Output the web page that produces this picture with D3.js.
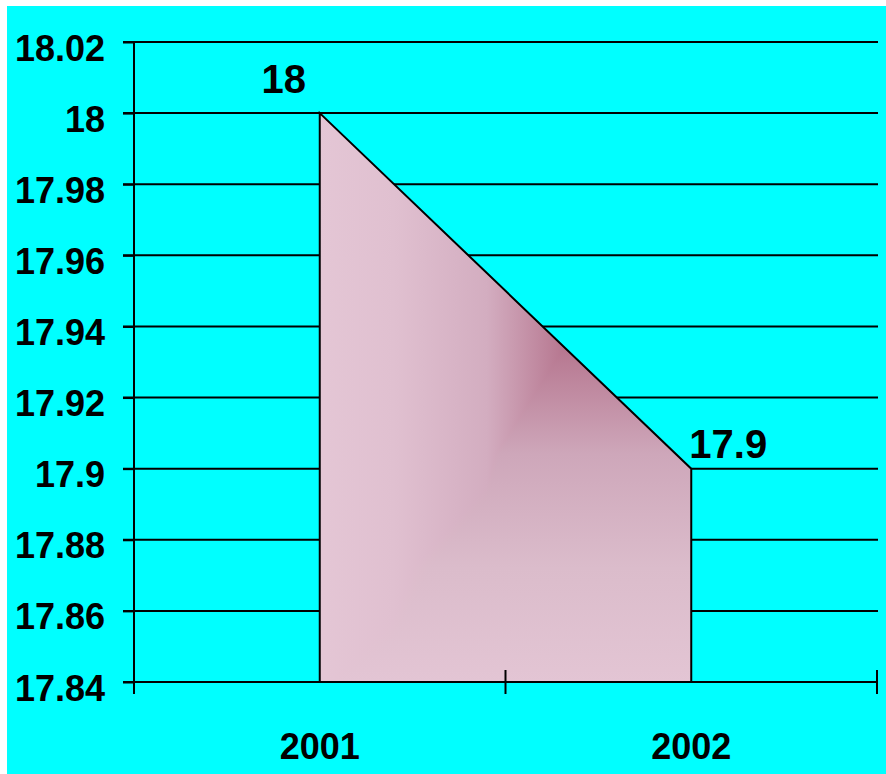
<!DOCTYPE html>
<html><head><meta charset="utf-8">
<script src="https://cdn.jsdelivr.net/npm/d3@7"></script>
<style>html,body{margin:0;padding:0;background:#fff;}svg{display:block;}</style>
</head><body>
<script>
const categories = ["2001", "2002"];
const values = [18, 17.9];
const valueLabels = ["18", "17.9"];
const yTicks = [17.84, 17.86, 17.88, 17.9, 17.92, 17.94, 17.96, 17.98, 18, 18.02];
const yTickLabels = ["17.84","17.86","17.88","17.9","17.92","17.94","17.96","17.98","18","18.02"];

(function () {
const W = 886, H = 774;
const svg = d3.select("body").append("svg").attr("width", W).attr("height", H);
svg.append("rect").attr("x", 7).attr("y", 6).attr("width", W - 7).attr("height", H - 6).attr("fill", "#00ffff");

const pL = 134, pR = 877, pT = 42, pB = 682;
const x = d3.scaleBand().domain(categories).range([pL, pR]).padding(0);
const y = d3.scaleLinear().domain([17.84, 18.02]).range([pB, pT]);
const cx = d => x(d) + x.bandwidth() / 2;
const font = "'Liberation Sans', Arial, sans-serif";

// gridlines
svg.append("g").selectAll("line").data(yTicks).join("line")
  .attr("x1", pL - 11).attr("x2", pR + 1)
  .attr("y1", d => y(d)).attr("y2", d => y(d))
  .attr("stroke", "#000").attr("stroke-width", 2);

// gradients
const defs = svg.append("defs");
const gh = defs.append("linearGradient").attr("id", "gh").attr("gradientUnits", "userSpaceOnUse")
  .attr("x1", cx("2001")).attr("x2", cx("2002")).attr("y1", 0).attr("y2", 0);
[[0, "#e4c6d5"], [0.2, "#e0c0d0"], [0.45, "#d3adc0"], [0.66, "#b6768f"], [1, "#c9a1b4"]]
  .forEach(s => gh.append("stop").attr("offset", s[0]).attr("stop-color", s[1]));
const gv = defs.append("linearGradient").attr("id", "gv").attr("gradientUnits", "userSpaceOnUse")
  .attr("x1", 0).attr("x2", 0).attr("y1", y(18)).attr("y2", pB);
[[0, "#cfa6b9"], [0.41, "#b6768f"], [0.6, "#cea7ba"], [0.8, "#dbbccb"], [1, "#e3c5d4"]]
  .forEach(s => gv.append("stop").attr("offset", s[0]).attr("stop-color", s[1]));

const data = categories.map((c, i) => ({c, v: values[i], label: valueLabels[i]}));
const area = d3.area().x(d => cx(d.c)).y0(y(17.84)).y1(d => y(d.v));

const ag = svg.append("g").style("isolation", "isolate");
ag.append("path").datum(data).attr("d", area).attr("fill", "url(#gh)");
ag.append("path").datum(data).attr("d", area).attr("fill", "url(#gv)").style("mix-blend-mode", "lighten");
svg.append("path").datum(data).attr("d", area).attr("fill", "none")
  .attr("stroke", "#000").attr("stroke-width", 2).attr("stroke-linejoin", "miter");

// y axis
const yAxis = svg.append("g").attr("transform", `translate(${pL},0)`)
  .call(d3.axisLeft(y).tickValues(yTicks).tickSize(11).tickPadding(0).tickFormat((d, i) => yTickLabels[i]));
yAxis.select(".domain").remove();
yAxis.selectAll(".tick line").attr("stroke", "#000").attr("stroke-width", 2);
yAxis.selectAll(".tick text").attr("x", -29).attr("dy", "0.5em")
  .style("font-family", font).style("font-weight", "bold").style("font-size", "36px").attr("fill", "#000");
svg.append("line").attr("x1", pL).attr("x2", pL).attr("y1", pT).attr("y2", pB)
  .attr("stroke", "#000").attr("stroke-width", 2);

// x axis
svg.append("line").attr("x1", pL).attr("x2", pR).attr("y1", pB).attr("y2", pB)
  .attr("stroke", "#000").attr("stroke-width", 2);
const xBounds = [pL, ...categories.map(c => x(c) + x.bandwidth())];
svg.append("g").selectAll("line").data(xBounds).join("line")
  .attr("x1", d => d).attr("x2", d => d).attr("y1", pB - 12).attr("y2", pB + 12)
  .attr("stroke", "#000").attr("stroke-width", 2);
svg.append("g").selectAll("text").data(categories).join("text")
  .attr("x", d => cx(d)).attr("y", 759).attr("text-anchor", "middle")
  .style("font-family", font).style("font-weight", "bold").style("font-size", "36px").text(d => d);

// data labels
const offs = [[-36, -20], [37, -11]];
svg.append("g").selectAll("text").data(data).join("text")
  .attr("x", (d, i) => cx(d.c) + offs[i][0]).attr("y", (d, i) => y(d.v) + offs[i][1])
  .attr("text-anchor", "middle")
  .style("font-family", font).style("font-weight", "bold").style("font-size", "40px").text(d => d.label);
})();
</script>
</body></html>
